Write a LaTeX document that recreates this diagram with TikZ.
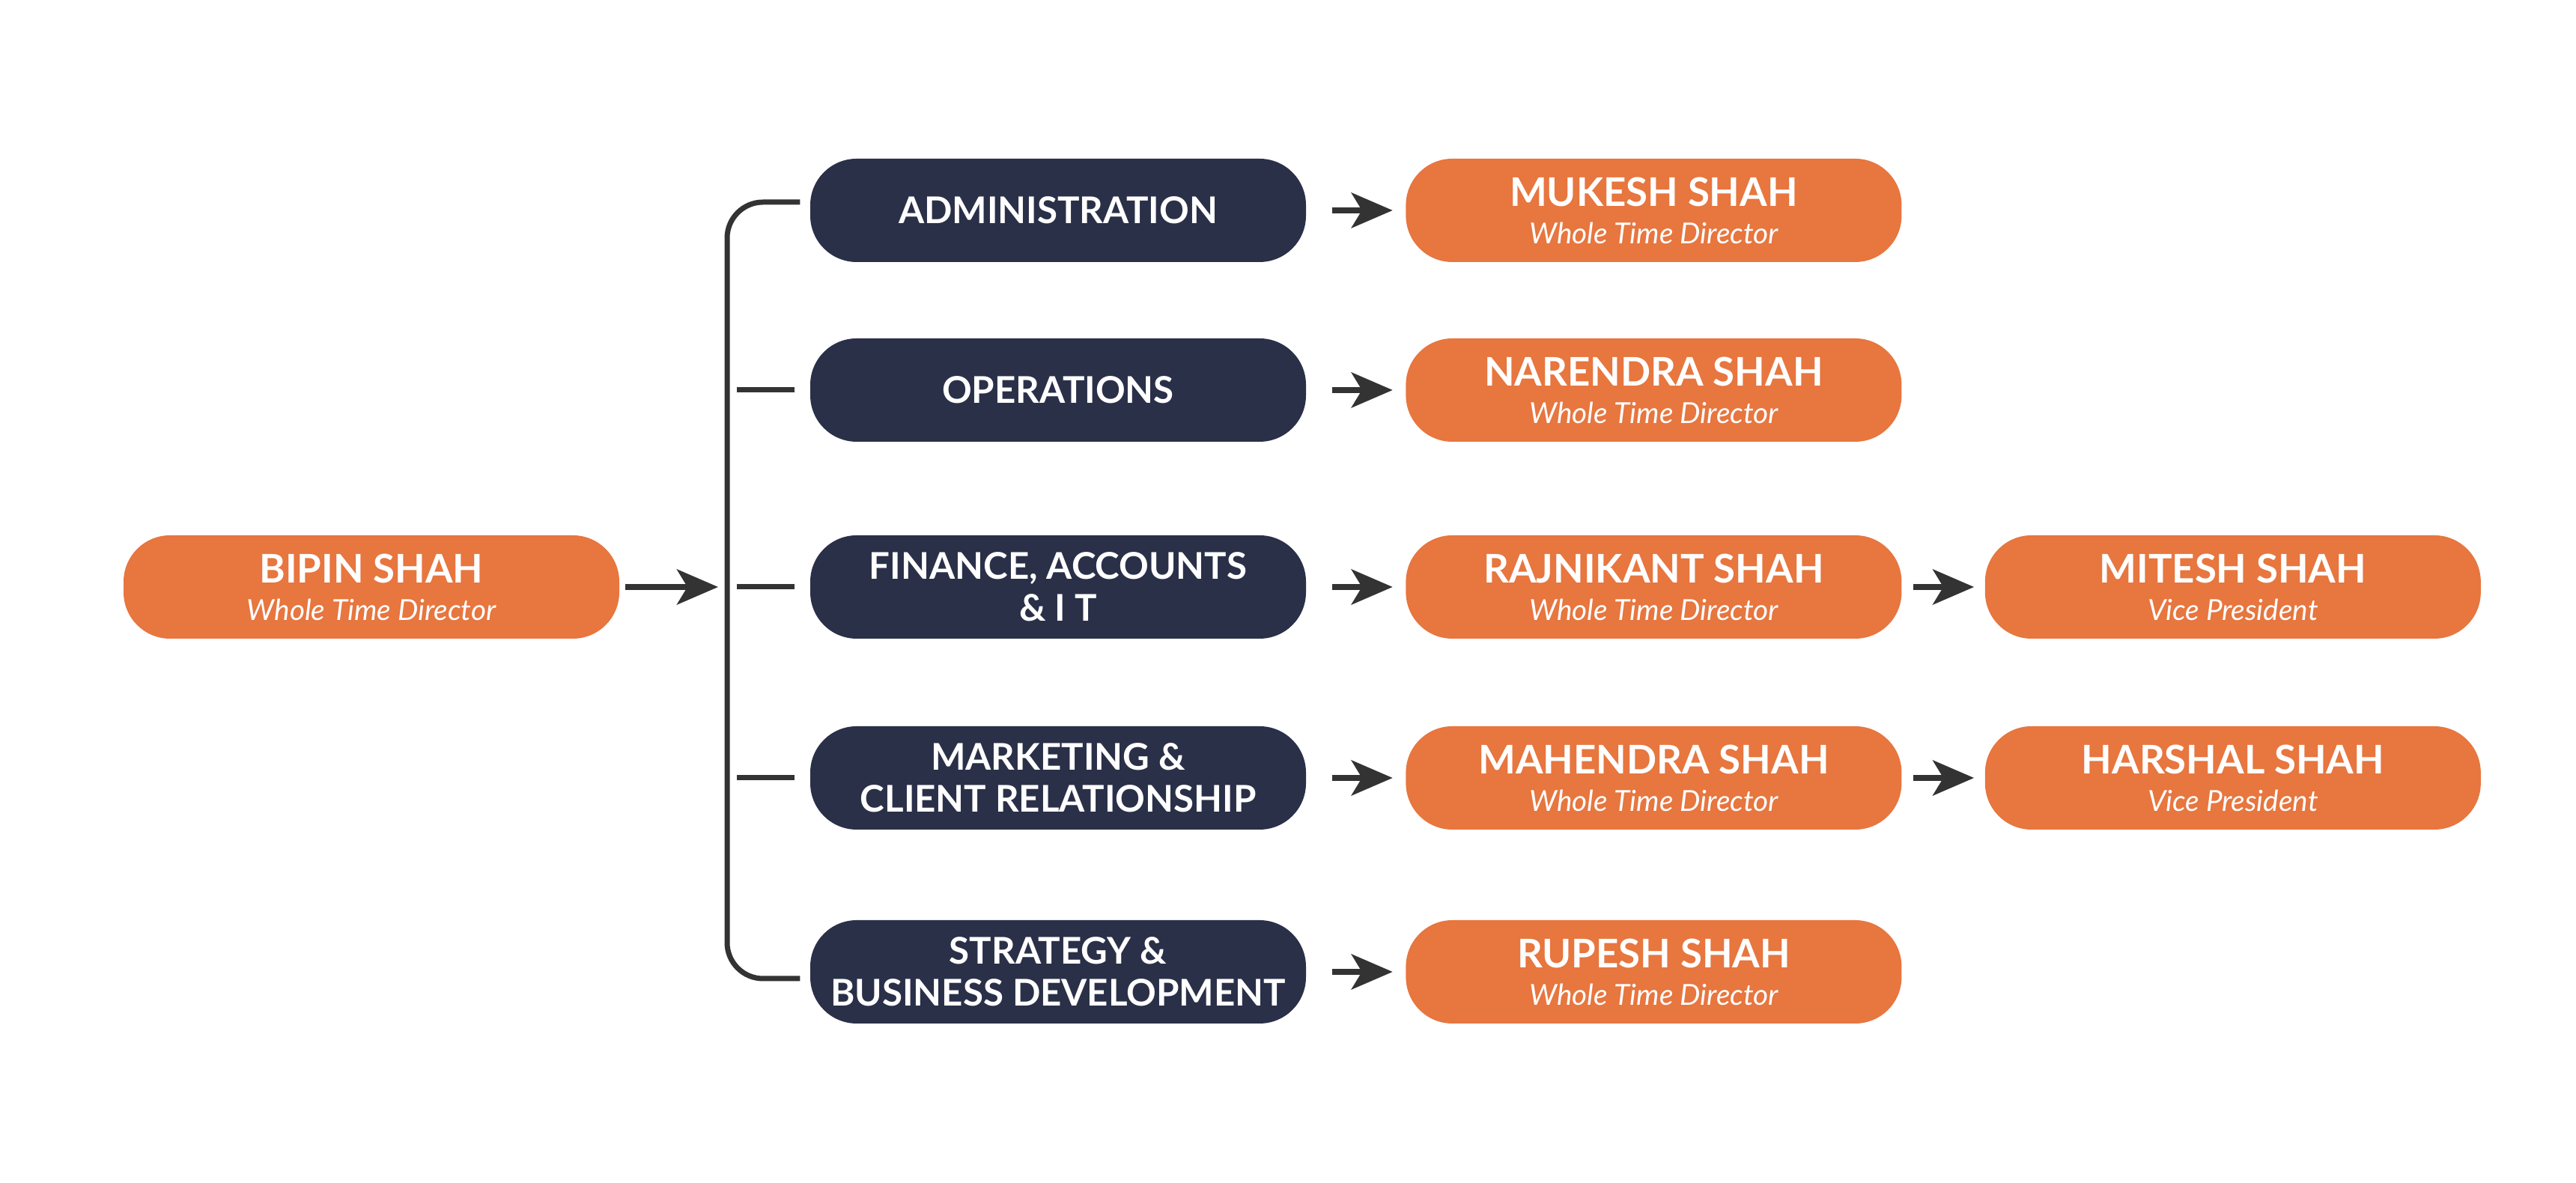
\documentclass[tikz,border=0pt]{standalone}
\usepackage{fontspec}
\setmainfont{Lato}
\usetikzlibrary{arrows.meta,positioning}
\definecolor{orangebox}{RGB}{231,118,63}
\definecolor{navybox}{RGB}{43,48,73}
\definecolor{linegray}{RGB}{51,51,51}

\tikzset{
  pill/.style={rounded corners=0.62cm, minimum width=6.62cm, minimum height=1.38cm,
    inner sep=0pt, align=center, text=white},
  person/.style={pill, fill=orangebox, font=\fontsize{15}{14.2}\selectfont\bfseries},
  dept/.style={pill, fill=navybox, font=\fontsize{14}{16}\selectfont\bfseries},
  arr/.style={-{Stealth[length=0.55cm,width=0.47cm,inset=0.14cm]}, line width=0.075cm, draw=linegray},
  bracket/.style={line width=0.07cm, draw=linegray},
}
\newcommand{\role}[1]{{\fontsize{11}{13}\selectfont\mdseries\itshape #1}}

\begin{document}
\begin{tikzpicture}
  \useasboundingbox (0,0) rectangle (34.4,15.8);
  % head of the group
  \node[person] (bipin) at (4.96,7.96) {BIPIN SHAH\\\role{Whole Time Director}};
  % departments
  \node[dept] (admin) at (14.13,12.99) {ADMINISTRATION};
  \node[dept] (ops) at (14.13,10.59) {OPERATIONS};
  \node[dept] (fin) at (14.13,7.96) {FINANCE, ACCOUNTS\\\& I T};
  \node[dept] (mkt) at (14.13,5.41) {MARKETING \&\\CLIENT RELATIONSHIP};
  \node[dept] (strat) at (14.13,2.82) {STRATEGY \&\\BUSINESS DEVELOPMENT};
  % directors
  \node[person, right=1.32cm of admin] (mukesh) {MUKESH SHAH\\\role{Whole Time Director}};
  \node[person, right=1.32cm of ops] (narendra) {NARENDRA SHAH\\\role{Whole Time Director}};
  \node[person, right=1.32cm of fin] (rajni) {RAJNIKANT SHAH\\\role{Whole Time Director}};
  \node[person, right=1.32cm of mkt] (mahendra) {MAHENDRA SHAH\\\role{Whole Time Director}};
  \node[person, right=1.32cm of strat] (rupesh) {RUPESH SHAH\\\role{Whole Time Director}};
  % vice presidents
  \node[person, right=1.10cm of rajni] (mitesh) {MITESH SHAH\\\role{Vice President}};
  \node[person, right=1.10cm of mahendra] (harshal) {HARSHAL SHAH\\\role{Vice President}};

  % bracket
  \coordinate (spine) at (9.71,7.96);
  \draw[arr, shorten <=0.07cm, shorten >=0.12cm] (bipin) -- (spine);
  \draw[bracket, rounded corners=0.48cm] ([xshift=-0.13cm, yshift=0.11cm]admin.west)
    -| (spine) |- ([xshift=-0.13cm, yshift=-0.09cm]strat.west);
  \foreach \d in {ops,fin,mkt}
    \draw[bracket] ([xshift=-0.2cm]\d.west) -- ++(-0.77,0);

  % arrows
  \foreach \a/\b in {admin/mukesh,ops/narendra,fin/rajni,mkt/mahendra,strat/rupesh}
    \draw[arr, shorten <=0.34cm, shorten >=0.17cm] (\a) -- (\b);
  \foreach \a/\b in {rajni/mitesh,mahendra/harshal}
    \draw[arr, shorten <=0.15cm, shorten >=0.14cm] (\a) -- (\b);
\end{tikzpicture}
\end{document}
